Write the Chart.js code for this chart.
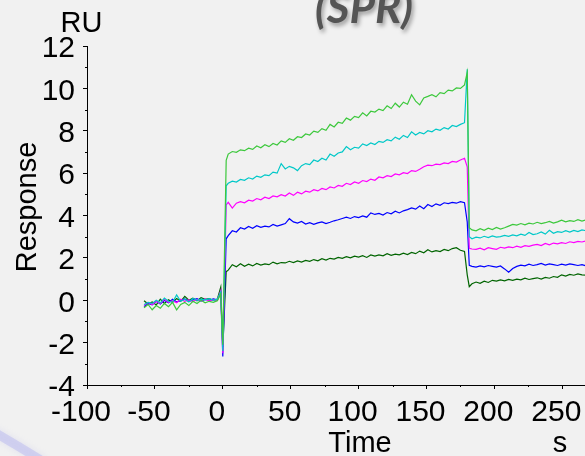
<!DOCTYPE html>
<html>
<head>
<meta charset="utf-8">
<style>
html,body{margin:0;padding:0;background:#f1f1f1;overflow:hidden;width:585px;height:456px}
#wrap{position:relative;width:620px;height:456px}
canvas{display:block}
</style>
<script src="https://cdn.jsdelivr.net/npm/chart.js"></script>
</head>
<body>
<div id="wrap"><canvas id="c" width="620" height="456"></canvas></div>
<script>
// Time points (s): baseline, injection, association, dissociation start, dissociation
const times = [
  -58,-55,-52,-49,-46,-43,-40,-37,-34,-31,-28,-25,-22,-19,-16,-13,-10,-7,-4,
  -1.5,0,2.5,
  4,7,10,13,16,19,22,25,28,31,34,37,40,43,46,49,52,55,58,61,64,67,70,73,76,79,82,85,88,91,94,97,100,
  103,106,109,112,115,118,121,124,127,130,133,136,139,142,145,148,151,154,157,160,163,166,169,172,175,178,
  180,181.5,
  183.5,186.5,189.5,192.5,195.5,198.5,201.5,204.5,207.5,210.5,213.5,216.5,219.5,222.5,225.5,228.5,231.5,
  234.5,237.5,240.5,243.5,246.5,249.5,252.5,255.5,258.5,261.5,264.5,267.5
];

// Response (RU) per curve
const greenRU = [
  -0.35,-0.20,-0.45,-0.25,-0.38,-0.15,-0.30,-0.10,-0.45,-0.20,-0.10,-0.25,-0.05,-0.15,0.00,-0.12,-0.05,-0.10,-0.02,
  0.30,-2.10,6.60,
  6.90,7.02,6.98,7.10,7.06,7.18,7.12,7.28,7.20,7.34,7.25,7.40,7.33,7.52,7.45,7.62,7.55,7.72,7.68,7.85,
  7.80,7.98,7.92,8.10,8.02,8.30,8.18,8.40,8.35,8.60,8.50,8.68,8.62,8.85,8.70,8.92,8.88,9.02,8.95,9.18,
  9.05,9.30,9.12,9.35,9.25,9.70,9.40,9.22,9.55,9.62,9.70,9.60,9.80,9.75,9.92,9.88,10.02,10.00,10.16,
  10.75,3.42,
  3.32,3.28,3.38,3.30,3.40,3.34,3.44,3.36,3.42,3.50,3.58,3.55,3.62,3.56,3.64,3.60,3.68,3.62,3.66,3.72,
  3.64,3.70,3.78,3.70,3.76,3.72,3.80,3.74,3.79
];
const cyanRU = [
  -0.20,-0.10,-0.15,0.00,-0.12,0.10,-0.05,-0.10,0.25,-0.05,0.05,-0.08,0.08,0.00,0.05,0.02,0.08,0.00,0.05,
  0.40,-2.40,5.40,
  5.52,5.62,5.58,5.70,5.66,5.78,5.72,5.86,5.80,5.92,5.88,6.05,6.00,6.45,6.20,6.32,6.25,6.12,6.35,6.45,
  6.40,6.62,6.55,6.70,6.62,6.90,6.80,6.95,7.00,7.25,7.10,7.22,7.18,7.38,7.30,7.42,7.35,7.50,7.45,7.58,
  7.52,7.70,7.60,7.78,7.68,7.95,7.80,7.92,7.85,8.00,7.95,8.08,8.02,8.15,8.08,8.25,8.20,8.30,8.38,
  10.90,3.00,
  2.90,2.98,2.94,3.02,2.96,3.04,2.98,3.00,3.06,3.02,3.08,3.04,3.12,3.06,3.20,3.10,3.14,3.22,3.12,3.30,
  3.16,3.24,3.20,3.28,3.22,3.30,3.24,3.32,3.28
];
const magentaRU = [
  -0.25,-0.10,-0.20,-0.05,-0.15,0.05,-0.10,-0.02,-0.12,0.05,-0.05,0.02,-0.06,0.04,-0.02,0.06,-0.04,0.02,0.00,
  0.45,-2.50,4.50,
  4.62,4.35,4.58,4.65,4.60,4.72,4.68,4.80,4.74,4.86,4.80,4.92,4.88,4.98,4.92,5.06,4.95,5.10,5.02,5.15,
  5.10,5.22,5.16,5.28,5.22,5.35,5.30,5.42,5.38,5.52,5.46,5.58,5.52,5.65,5.60,5.72,5.66,5.82,5.78,5.88,
  5.84,5.96,5.92,6.02,5.98,6.12,6.08,6.18,6.30,6.38,6.35,6.42,6.40,6.48,6.45,6.55,6.52,6.62,6.70,
  6.30,2.45,
  2.42,2.40,2.46,2.38,2.48,2.44,2.40,2.50,2.46,2.52,2.48,2.55,2.50,2.58,2.54,2.60,2.64,2.58,2.68,2.62,
  2.70,2.66,2.72,2.68,2.76,2.72,2.78,2.75,2.80
];
const blueRU = [
  -0.30,-0.15,-0.22,-0.05,-0.18,0.00,-0.12,0.05,-0.08,-0.02,0.06,-0.05,0.02,0.08,-0.04,0.04,0.00,0.06,0.02,
  0.35,-2.65,2.90,
  3.05,3.28,3.22,3.42,3.36,3.48,3.40,3.52,3.44,3.50,3.46,3.58,3.50,3.56,3.62,3.85,3.70,3.64,3.72,3.60,
  3.66,3.58,3.65,3.70,3.62,3.68,3.75,3.80,3.86,3.92,3.86,3.95,3.90,3.98,3.92,4.12,4.05,4.10,4.02,4.14,
  4.08,4.20,4.12,4.22,4.28,4.36,4.30,4.45,4.32,4.52,4.42,4.55,4.48,4.60,4.56,4.62,4.58,4.65,4.60,
  3.70,1.65,
  1.60,1.56,1.62,1.58,1.64,1.60,1.56,1.62,1.48,1.32,1.50,1.60,1.66,1.62,1.70,1.64,1.68,1.74,1.66,1.72,
  1.68,1.64,1.70,1.66,1.72,1.68,1.64,1.68,1.62
];
const darkGreenRU = [
  -0.02,-0.18,-0.08,-0.22,0.05,-0.15,0.02,-0.10,0.08,-0.05,0.18,0.00,0.10,-0.02,0.12,0.04,0.08,0.00,0.05,
  0.62,-2.20,1.35,
  1.42,1.68,1.58,1.72,1.60,1.70,1.62,1.74,1.66,1.72,1.68,1.80,1.72,1.78,1.76,1.84,1.78,1.86,1.80,1.88,
  1.84,1.92,1.86,1.96,1.90,1.98,1.94,2.02,1.98,2.06,2.00,2.08,2.04,2.10,2.02,2.14,2.08,2.14,2.10,2.20,
  2.12,2.18,2.14,2.22,2.16,2.26,2.20,2.32,2.24,2.38,2.28,2.34,2.30,2.40,2.34,2.44,2.48,2.36,2.30,
  1.20,0.64,
  0.78,0.86,0.80,0.90,0.84,0.94,0.90,0.96,0.92,0.98,0.94,1.00,0.96,1.04,0.98,1.02,1.06,1.00,1.08,1.04,
  1.12,1.08,1.20,1.14,1.22,1.18,1.24,1.20,1.19
];

const xTickStep = 50, xMinorStep = 25;
const yTickStep = 2, yMinorStep = 1;

const series = [
  {name:'c5', vals: greenRU, color:'#3cc83c'},
  {name:'c4', vals: cyanRU, color:'#00c8c8'},
  {name:'c3', vals: magentaRU, color:'#ff00ff'},
  {name:'c2', vals: blueRU, color:'#0000ff'},
  {name:'c1', vals: darkGreenRU, color:'#006400'}
];
series.forEach(s => { if (s.vals.length !== times.length) throw new Error(s.name + ' length ' + s.vals.length + ' vs ' + times.length); });

const FONT = '"Liberation Sans", Arial, sans-serif';

const bgPlugin = {
  id: 'bg',
  beforeDraw(chart) {
    const ctx = chart.ctx;
    ctx.save();
    ctx.fillStyle = '#f1f1f1';
    ctx.fillRect(0, 0, chart.width, chart.height);
    ctx.strokeStyle = 'rgba(190,190,238,0.55)';
    ctx.lineWidth = 9;
    ctx.shadowColor = 'rgba(190,190,238,0.6)';
    ctx.shadowBlur = 6;
    ctx.beginPath();
    ctx.moveTo(-6, 432);
    ctx.quadraticCurveTo(18, 446, 44, 462);
    ctx.stroke();
    ctx.restore();
  }
};

const decoPlugin = {
  id: 'deco',
  afterDraw(chart) {
    const ctx = chart.ctx;
    const xs = chart.scales.x, ys = chart.scales.y;
    const area = chart.chartArea;
    ctx.save();
    // minor ticks
    ctx.strokeStyle = '#000';
    ctx.lineWidth = 1;
    ctx.beginPath();
    for (let v = xs.min; v <= xs.max; v += xMinorStep) {
      if (Math.abs(v % xTickStep) < 1e-9) continue;
      const px = Math.round(xs.getPixelForValue(v)) + 0.5;
      ctx.moveTo(px, area.bottom); ctx.lineTo(px, area.bottom + 2);
    }
    for (let v = ys.min; v <= ys.max; v += yMinorStep) {
      if (Math.abs(v % yTickStep) < 1e-9) continue;
      const py = Math.round(ys.getPixelForValue(v)) + 0.5;
      ctx.moveTo(area.left, py); ctx.lineTo(area.left - 2, py);
    }
    ctx.stroke();
    // axis titles
    ctx.fillStyle = '#000';
    ctx.font = '29px ' + FONT;
    ctx.textAlign = 'center';
    ctx.textBaseline = 'alphabetic';
    ctx.fillText('RU', 81.5, 31.5);
    ctx.fillText('Time', 360, 451.5);
    ctx.fillText('s', 560, 451.5);
    ctx.save();
    ctx.translate(36, 207);
    ctx.rotate(-Math.PI / 2);
    ctx.fillText('Response', 0, 0);
    ctx.restore();
    // heading fragment
    ctx.font = 'italic bold 44px Lato, "Open Sans", sans-serif';
    ctx.textAlign = 'left';
    ctx.fillStyle = '#555555';
    ctx.shadowColor = 'rgba(0,0,0,0.35)';
    ctx.shadowBlur = 4;
    ctx.shadowOffsetX = 2;
    ctx.shadowOffsetY = 3;
    ctx.fillText('(SPR)', 315, 23);
    ctx.restore();
  }
};

new Chart(document.getElementById('c'), {
  type: 'line',
  data: {
    datasets: series.map(s => ({
      label: s.name,
      data: times.map((t, i) => ({x: t, y: s.vals[i]})),
      borderColor: s.color,
      borderWidth: 1.2,
      pointRadius: 0,
      fill: false,
      tension: 0
    }))
  },
  options: {
    responsive: false,
    animation: false,
    devicePixelRatio: 1,
    layout: {padding: {top: 46, left: 0, right: 0, bottom: 0}},
    plugins: {legend: {display: false}, tooltip: {enabled: false}},
    scales: {
      x: {
        type: 'linear', min: -100, max: 292.5,
        ticks: {stepSize: xTickStep, includeBounds: false, autoSkip: false, maxRotation: 0,
                font: {family: FONT, size: 30}, color: '#000', padding: 6, labelOffset: -6},
        grid: {drawOnChartArea: false, tickLength: 4, tickColor: '#000', tickWidth: 1},
        border: {color: '#000', width: 1},
        afterFit(s) { s.height = 71; }
      },
      y: {
        min: -4, max: 12,
        ticks: {stepSize: yTickStep, autoSkip: false,
                font: {family: FONT, size: 30}, color: '#000', padding: 8, labelOffset: 3},
        grid: {drawOnChartArea: false, tickLength: 4, tickColor: '#000', tickWidth: 1},
        border: {color: '#000', width: 1},
        afterFit(s) { s.width = 87; }
      }
    }
  },
  plugins: [bgPlugin, decoPlugin]
});
</script>
</body>
</html>
